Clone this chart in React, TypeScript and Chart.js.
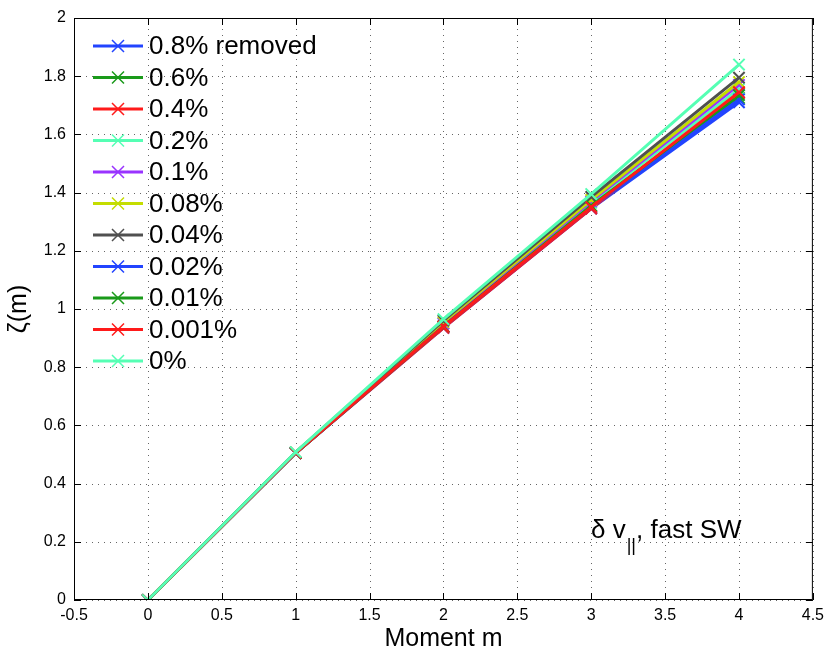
import React, { useEffect, useRef } from 'react';
import { Chart, registerables } from 'chart.js';

Chart.register(...registerables);

const moments = [0, 1, 2, 3, 4];

const labels = ['0.8% removed', '0.6%', '0.4%', '0.2%', '0.1%', '0.08%', '0.04%', '0.02%', '0.01%', '0.001%', '0%'];
const colors = ['#2244ff', '#1a9a1a', '#ff1a1a', '#55ffb4', '#9933ff', '#c4dd00', '#505050', '#2244ff', '#1a9a1a', '#ff1a1a', '#55ffb4'];

const z08 = [0, 0.505, 0.935, 1.345, 1.71];
const z06 = [0, 0.505, 0.94, 1.35, 1.725];
const z04 = [0, 0.505, 0.935, 1.345, 1.742];
const z02 = [0, 0.506, 0.95, 1.365, 1.756];
const z01 = [0, 0.506, 0.95, 1.37, 1.77];
const z008 = [0, 0.507, 0.955, 1.375, 1.78];
const z004 = [0, 0.507, 0.96, 1.385, 1.795];
const z002 = [0, 0.505, 0.94, 1.35, 1.72];
const z001 = [0, 0.505, 0.94, 1.355, 1.735];
const z0001 = [0, 0.505, 0.94, 1.35, 1.745];
const z0 = [0, 0.508, 0.965, 1.395, 1.84];

const series = [z08, z06, z04, z02, z01, z008, z004, z002, z001, z0001, z0];

const FONT = '"Liberation Sans", Arial, sans-serif';

// dotted grid, MATLAB style
const gridPlugin = {
  id: 'dotGrid',
  beforeDatasetsDraw(chart: any) {
    const { ctx, chartArea: a, scales } = chart;
    ctx.save();
    ctx.strokeStyle = '#666';
    ctx.lineWidth = 1;
    ctx.setLineDash([1, 5]);
    ctx.beginPath();
    scales.x.ticks.forEach((t: any) => {
      const x = Math.round(scales.x.getPixelForValue(t.value)) + 0.5;
      ctx.moveTo(x, a.bottom);
      ctx.lineTo(x, a.top);
    });
    scales.y.ticks.forEach((t: any) => {
      const y = Math.round(scales.y.getPixelForValue(t.value)) + 0.5;
      ctx.moveTo(a.left, y);
      ctx.lineTo(a.right, y);
    });
    ctx.stroke();
    ctx.restore();
  },
};

// legend inside the axes
const legendPlugin = {
  id: 'insideLegend',
  afterDraw(chart: any) {
    const ctx = chart.ctx;
    ctx.save();
    ctx.font = `26px ${FONT}`;
    ctx.textBaseline = 'middle';
    ctx.fillStyle = '#000';
    labels.forEach((lab, i) => {
      const y = 46 + i * 31.5;
      ctx.strokeStyle = colors[i];
      ctx.lineWidth = 3;
      ctx.beginPath();
      ctx.moveTo(93, y);
      ctx.lineTo(143, y);
      ctx.stroke();
      ctx.lineWidth = 1.5;
      ctx.beginPath();
      ctx.moveTo(112, y - 6);
      ctx.lineTo(124, y + 6);
      ctx.moveTo(124, y - 6);
      ctx.lineTo(112, y + 6);
      ctx.stroke();
      ctx.fillText(lab, 149, y + 1);
    });
    ctx.restore();
  },
};

// box, inward ticks and the text note
const framePlugin = {
  id: 'frame',
  afterDraw(chart: any) {
    const { ctx, chartArea: a, scales } = chart;
    ctx.save();
    ctx.strokeStyle = '#000';
    ctx.lineWidth = 1;
    ctx.strokeRect(a.left + 0.5, a.top + 0.5, a.right - a.left - 1, a.bottom - a.top - 1);
    ctx.beginPath();
    scales.x.ticks.forEach((t: any) => {
      const x = Math.round(scales.x.getPixelForValue(t.value)) + 0.5;
      ctx.moveTo(x, a.bottom);
      ctx.lineTo(x, a.bottom - 7);
      ctx.moveTo(x, a.top);
      ctx.lineTo(x, a.top + 7);
    });
    scales.y.ticks.forEach((t: any) => {
      const y = Math.round(scales.y.getPixelForValue(t.value)) + 0.5;
      ctx.moveTo(a.left, y);
      ctx.lineTo(a.left + 7, y);
      ctx.moveTo(a.right, y);
      ctx.lineTo(a.right - 7, y);
    });
    ctx.stroke();

    ctx.fillStyle = '#000';
    ctx.textBaseline = 'alphabetic';
    ctx.font = `26px ${FONT}`;
    const bx = 591;
    const by = 538;
    ctx.fillText('δ v', bx, by);
    const w1 = ctx.measureText('δ v').width;
    ctx.font = `18px ${FONT}`;
    ctx.fillText('||', bx + w1 + 1, by + 13);
    const w2 = ctx.measureText('||').width;
    ctx.font = `26px ${FONT}`;
    ctx.fillText(', fast SW', bx + w1 + w2 + 1, by);
    ctx.restore();
  },
};

export default function App() {
  const chartRef = useRef<HTMLCanvasElement>(null);
  const chartInstance = useRef<Chart | null>(null);

  useEffect(() => {
    document.body.style.margin = '0';
    if (!chartRef.current) return;
    if (chartInstance.current) chartInstance.current.destroy();
    const ctx = chartRef.current.getContext('2d');
    if (!ctx) return;

    chartInstance.current = new Chart(ctx, {
      type: 'line',
      data: {
        datasets: series.map((s, i) => ({
          label: labels[i],
          data: s.map((v, j) => ({ x: moments[j], y: v })),
          borderColor: colors[i],
          backgroundColor: colors[i],
          borderWidth: 3,
          pointStyle: 'crossRot',
          pointRadius: 8,
          pointBorderWidth: 2,
          pointBorderColor: colors[i],
          fill: false,
          tension: 0,
          order: series.length - i, // last series painted on top
        })),
      },
      options: {
        animation: false,
        responsive: false,
        layout: { padding: { top: 18, right: 17, left: 0, bottom: 0 } },
        plugins: {
          legend: { display: false },
          tooltip: { enabled: false },
        },
        scales: {
          x: {
            type: 'linear',
            min: -0.5,
            max: 4.5,
            ticks: {
              stepSize: 0.5,
              color: '#000',
              font: { family: FONT, size: 16 },
              padding: 6,
              callback: (v: any) => String(Number(Number(v).toFixed(1))),
            },
            grid: { display: false, drawTicks: false },
            border: { display: false },
            title: {
              display: true,
              text: 'Moment m',
              color: '#000',
              font: { family: FONT, size: 25 },
              padding: { top: 0 },
            },
            afterFit: (s: any) => { s.height = 58; },
          },
          y: {
            min: 0,
            max: 2,
            ticks: {
              stepSize: 0.2,
              color: '#000',
              font: { family: FONT, size: 16 },
              padding: 8,
              callback: (v: any) => String(Number(Number(v).toFixed(1))),
            },
            grid: { display: false, drawTicks: false },
            border: { display: false },
            title: {
              display: true,
              text: 'ζ(m)',
              color: '#000',
              font: { family: FONT, size: 25 },
              padding: { bottom: 2 },
            },
            afterFit: (s: any) => { s.width = 74; },
          },
        },
      },
      plugins: [gridPlugin, legendPlugin, framePlugin],
    });

    return () => {
      if (chartInstance.current) {
        chartInstance.current.destroy();
        chartInstance.current = null;
      }
    };
  }, []);

  return (
    <div style={{ width: 830, height: 658, background: '#fff' }}>
      <canvas ref={chartRef} width={830} height={658} />
    </div>
  );
}
